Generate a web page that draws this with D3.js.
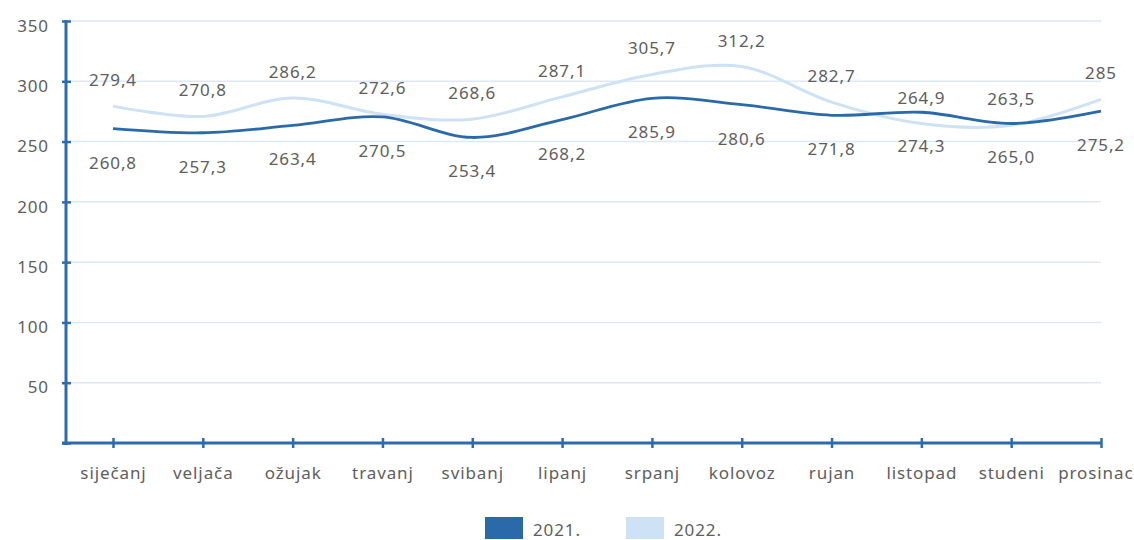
<!DOCTYPE html>
<meta charset="utf-8">
<style>
body { margin: 0; background: #fff; }
text { font-family: "Noto Sans", sans-serif; fill: #5e5e5e; letter-spacing: 0.9px; }
.grid line { stroke: #dde9f6; stroke-width: 1.5px; }
</style>
<svg width="1134" height="540"></svg>
<script src="https://d3js.org/d3.v7.min.js"></script>
<script>

var months = ["siječanj", "veljača", "ožujak", "travanj", "svibanj", "lipanj",
              "srpanj", "kolovoz", "rujan", "listopad", "studeni", "prosinac"];
var values2021 = [260.8, 257.3, 263.4, 270.5, 253.4, 268.2, 285.9, 280.6, 271.8, 274.3, 265.0, 275.2];
var values2022 = [279.4, 270.8, 286.2, 272.6, 268.6, 287.1, 305.7, 312.2, 282.7, 264.9, 263.5, 285];
var labels2021 = ["260,8", "257,3", "263,4", "270,5", "253,4", "268,2", "285,9", "280,6", "271,8", "274,3", "265,0", "275,2"];
var labels2022 = ["279,4", "270,8", "286,2", "272,6", "268,6", "287,1", "305,7", "312,2", "282,7", "264,9", "263,5", "285"];
var yTicks = [50, 100, 150, 200, 250, 300, 350];
var seriesNames = ["2021.", "2022."];

var dark = "#2a6aa8", light = "#cde2f5", axisColor = "#2b6cae";

var svg = d3.select("svg");

var x = d3.scalePoint().domain(months).range([113, 1101]);
var y = d3.scaleLinear().domain([0, 350]).range([443, 21]);

// gridlines
svg.append("g")
    .attr("class", "grid")
  .selectAll("line")
  .data(yTicks)
  .enter().append("line")
    .attr("x1", 70).attr("x2", 1101)
    .attr("y1", function(d) { return y(d); })
    .attr("y2", function(d) { return y(d); });

// lines
var line = d3.line()
    .x(function(d, i) { return x(months[i]); })
    .y(function(d) { return y(d); })
    .curve(d3.curveCardinal.tension(0));

svg.append("path")
    .datum(values2022)
    .attr("fill", "none")
    .attr("stroke", light)
    .attr("stroke-width", 3)
    .attr("d", line);

svg.append("path")
    .datum(values2021)
    .attr("fill", "none")
    .attr("stroke", dark)
    .attr("stroke-width", 2.8)
    .attr("d", line);

// data labels
svg.append("g").selectAll("text")
    .data(values2022)
  .enter().append("text")
    .attr("x", function(d, i) { return x(months[i]); })
    .attr("y", function(d) { return y(d) - 20; })
    .attr("text-anchor", "middle")
    .style("font-size", "17px")
    .text(function(d, i) { return labels2022[i]; });

svg.append("g").selectAll("text")
    .data(values2021)
  .enter().append("text")
    .attr("x", function(d, i) { return x(months[i]); })
    .attr("y", function(d) { return y(d) + 40; })
    .attr("text-anchor", "middle")
    .style("font-size", "17px")
    .text(function(d, i) { return labels2021[i]; });

// y axis
var yAxis = svg.append("g")
    .attr("transform", "translate(66,0)")
    .call(d3.axisLeft(y).tickValues(yTicks.concat([0])).tickSize(0).tickFormat(function(d) { return d === 0 ? "" : d; }));
yAxis.select(".domain").remove();
yAxis.selectAll("text")
    .attr("x", -17)
    .attr("dy", "0.6em")
    .style("font-size", "17px")
    .style("font-family", "'Noto Sans', sans-serif")
    .attr("fill", "#5e5e5e");
yAxis.selectAll(".tick line").remove();
yAxis.selectAll(".tick").append("line")
    .attr("x1", -4).attr("x2", 5)
    .attr("stroke", axisColor).attr("stroke-width", 2.5);
yAxis.append("line")
    .attr("x1", 0).attr("x2", 0)
    .attr("y1", 20).attr("y2", 445)
    .attr("stroke", axisColor).attr("stroke-width", 3);

// x axis
var xAxis = svg.append("g")
    .attr("transform", "translate(0,443)")
    .call(d3.axisBottom(x).tickSize(0));
xAxis.select(".domain").remove();
xAxis.selectAll("text")
    .attr("y", 36)
    .attr("dy", 0)
    .style("font-size", "17px")
    .style("font-family", "'Noto Sans', sans-serif")
    .attr("fill", "#5e5e5e");
// keep the last month label inside the picture
xAxis.selectAll(".tick text")
    .filter(function(d) { return d === months[months.length - 1]; })
    .attr("text-anchor", "end")
    .attr("x", 32);
xAxis.selectAll(".tick").append("line")
    .attr("y1", -5).attr("y2", 5)
    .attr("stroke", axisColor).attr("stroke-width", 2.5);
xAxis.append("line")
    .attr("x1", 62).attr("x2", 1102)
    .attr("stroke", axisColor).attr("stroke-width", 3);

// legend
var legend = svg.append("g").selectAll("g")
    .data(seriesNames)
  .enter().append("g")
    .attr("transform", function(d, i) { return "translate(" + (485 + i * 141) + ",517)"; });
legend.append("rect")
    .attr("width", 38).attr("height", 22)
    .attr("fill", function(d, i) { return i === 0 ? dark : light; });
legend.append("text")
    .attr("x", 48).attr("y", 19)
    .style("font-size", "17px")
    .text(function(d) { return d; });

</script>
